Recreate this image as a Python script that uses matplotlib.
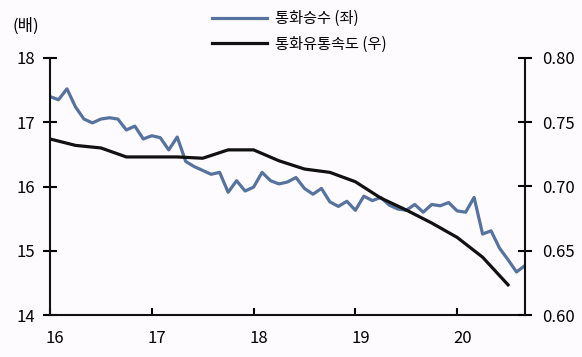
import numpy as np
import matplotlib.pyplot as plt
from matplotlib.transforms import ScaledTranslation

plt.rcParams['font.family'] = ['Noto Sans CJK KR', 'DejaVu Sans']

# monthly money multiplier (left axis), Jan 2016 - Sep 2020
multiplier = [17.40, 17.35, 17.52, 17.24, 17.05, 16.99, 17.05, 17.07, 17.05, 16.88,
              16.94, 16.74, 16.79, 16.76, 16.57, 16.77, 16.39, 16.31, 16.25, 16.19,
              16.22, 15.91, 16.09, 15.93, 15.99, 16.22, 16.09, 16.04, 16.07, 16.14,
              15.97, 15.88, 15.97, 15.76, 15.69, 15.77, 15.63, 15.85, 15.78, 15.83,
              15.71, 15.65, 15.63, 15.72, 15.60, 15.72, 15.70, 15.75, 15.62, 15.60,
              15.83, 15.26, 15.31, 15.04, 14.86, 14.67, 14.77]

# quarterly velocity of money (right axis), 2016Q1 - 2020Q3
velocity = [0.737, 0.732, 0.730, 0.723, 0.723, 0.723, 0.722, 0.7285, 0.7285, 0.720,
            0.7136, 0.711, 0.7037, 0.691, 0.6817, 0.6716, 0.6604, 0.645, 0.6235]

year_labels = ['16', '17', '18', '19', '20']

months = np.arange(len(multiplier))
quarters = np.arange(len(velocity)) * 3

bg = '#fdfbfd'
blue = '#56739f'

fig = plt.figure(figsize=(5.82, 3.57), dpi=100, facecolor=bg)
ax = fig.add_axes([50 / 582, 42 / 357, 475 / 582, 257 / 357])
ax.set_facecolor(bg)
ax2 = ax.twinx()

l1, = ax.plot(months, multiplier, color=blue, lw=2.3, label='통화승수 (좌)')
l2, = ax2.plot(quarters, velocity, color='#111111', lw=2.3, label='통화유통속도 (우)')

ax.set_xlim(0, 56)
ax.set_ylim(14, 18)
ax2.set_ylim(0.60, 0.80)
ax.set_yticks([14, 15, 16, 17, 18])
ax2.set_yticks([0.60, 0.65, 0.70, 0.75, 0.80])
ax2.set_yticklabels(['0.60', '0.65', '0.70', '0.75', '0.80'])
ax.set_xticks(np.arange(len(year_labels)) * 12)
ax.set_xticklabels(year_labels)

for a in (ax, ax2):
    a.spines['top'].set_visible(False)
    for s in a.spines.values():
        s.set_linewidth(1.5)
        s.set_color('#111111')
ax.spines['right'].set_visible(False)
ax2.spines['left'].set_visible(False)
ax2.spines['bottom'].set_visible(False)

ax.tick_params(axis='y', direction='inout', length=10, width=1.5, labelsize=12, pad=6)
ax2.tick_params(axis='y', direction='inout', length=10, width=1.5, labelsize=12, pad=7)
ax.tick_params(axis='x', direction='in', length=5, width=1.5, labelsize=12, pad=11)

# x labels sit slightly right of their ticks in the original
shift = ScaledTranslation(5 / 100, 0, fig.dpi_scale_trans)
for lab in ax.get_xticklabels():
    lab.set_transform(lab.get_transform() + shift)

fig.text(12 / 582, 1 - 26 / 357, '(배)', fontsize=12, va='center', ha='left')

fig.legend(handles=[l1, l2], loc='upper left', bbox_to_anchor=(212 / 582, 1 - 10 / 357),
           frameon=False, fontsize=11, handlelength=3.6, handletextpad=0.5,
           labelspacing=0.55, borderpad=0, borderaxespad=0)

fig.savefig('out.png', dpi=100, facecolor=bg)
